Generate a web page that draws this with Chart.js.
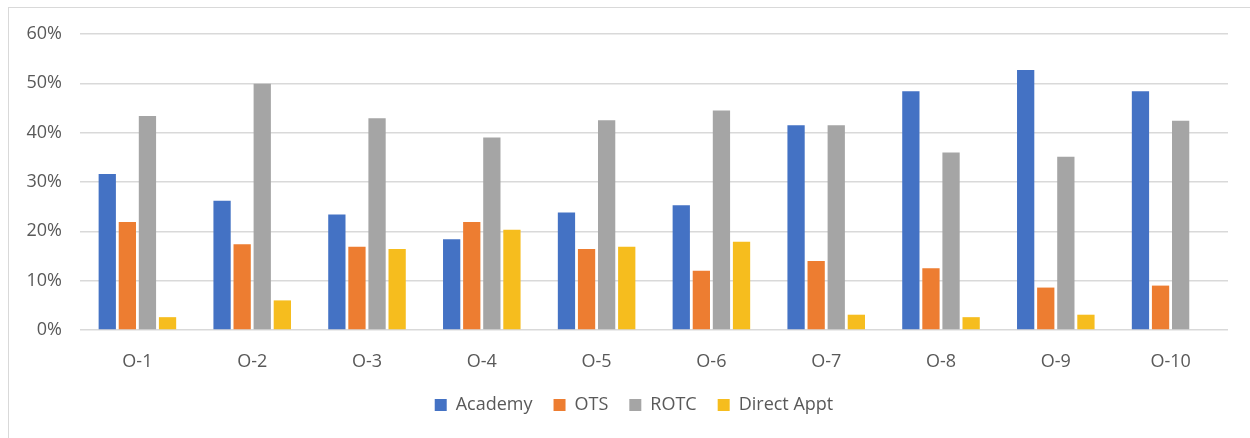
<!DOCTYPE html>
<html><head><meta charset="utf-8">
<script src="https://cdn.jsdelivr.net/npm/chart.js@4"></script>
<style>
html,body{margin:0;padding:0;background:#fff;}
#wrap{position:relative;width:1250px;height:438px;}
#frame{position:absolute;left:8px;top:7px;width:1260px;height:440px;border:1.5px solid #d9d9d9;box-sizing:border-box;}
canvas{position:absolute;left:0;top:0;}
</style></head>
<body>
<div id="wrap"><div id="frame"></div><canvas id="c" width="1250" height="438"></canvas></div>
<script>
const categories = ["O-1","O-2","O-3","O-4","O-5","O-6","O-7","O-8","O-9","O-10"];
const academy    = [31.6, 26.2, 23.4, 18.4, 23.8, 25.3, 41.5, 48.4, 52.7, 48.4];
const ots        = [21.9, 17.4, 16.9, 21.9, 16.4, 12.0, 14.0, 12.5, 8.6, 9.0];
const rotc       = [43.4, 49.9, 42.9, 39.0, 42.5, 44.5, 41.5, 36.0, 35.1, 42.4];
const directAppt = [2.6, 6.0, 16.4, 20.3, 16.9, 17.9, 3.1, 2.6, 3.1, 0];
const seriesNames = ["Academy","OTS","ROTC","Direct Appt"];
const yTicks = [0,10,20,30,40,50,60];

const colors = ["#4472C4","#ED7D31","#A5A5A5","#F6BD1E"];
const font = {family:"'Open Sans', 'Liberation Sans', sans-serif", size:18};
const txt = "#595959";

const legendShift = {
  id:'legendShift',
  afterLayout(chart){
    if(chart.legend){ chart.legend.left += 16; chart.legend.right += 16; }
  }
};

new Chart(document.getElementById('c'), {
  type:'bar',
  data:{
    labels:categories,
    datasets:[academy,ots,rotc,directAppt].map((d,i)=>({
      label:seriesNames[i], data:d, backgroundColor:colors[i],
      borderWidth:0, categoryPercentage:0.7, barPercentage:0.86
    }))
  },
  plugins:[legendShift],
  options:{
    responsive:false, animation:false,
    layout:{padding:{left:8,right:22,top:34,bottom:14}},
    plugins:{
      legend:{position:'bottom',
        labels:{color:txt,font:font,boxWidth:12,boxHeight:12,padding:21}},
      tooltip:{enabled:false}
    },
    scales:{
      x:{grid:{display:false},border:{display:false},
         ticks:{color:txt,font:font,padding:13},
         afterFit:s=>{s.height=45;}},
      y:{min:0,max:60,
         afterBuildTicks:s=>{s.ticks=yTicks.map(v=>({value:v}));},
         grid:{color:"#d9d9d9",lineWidth:1.5,drawTicks:false},
         border:{display:false},
         ticks:{color:txt,font:font,padding:18,callback:v=>v+"%"},
         afterFit:s=>{s.width=72;}}
    }
  }
});
</script>
</body></html>
